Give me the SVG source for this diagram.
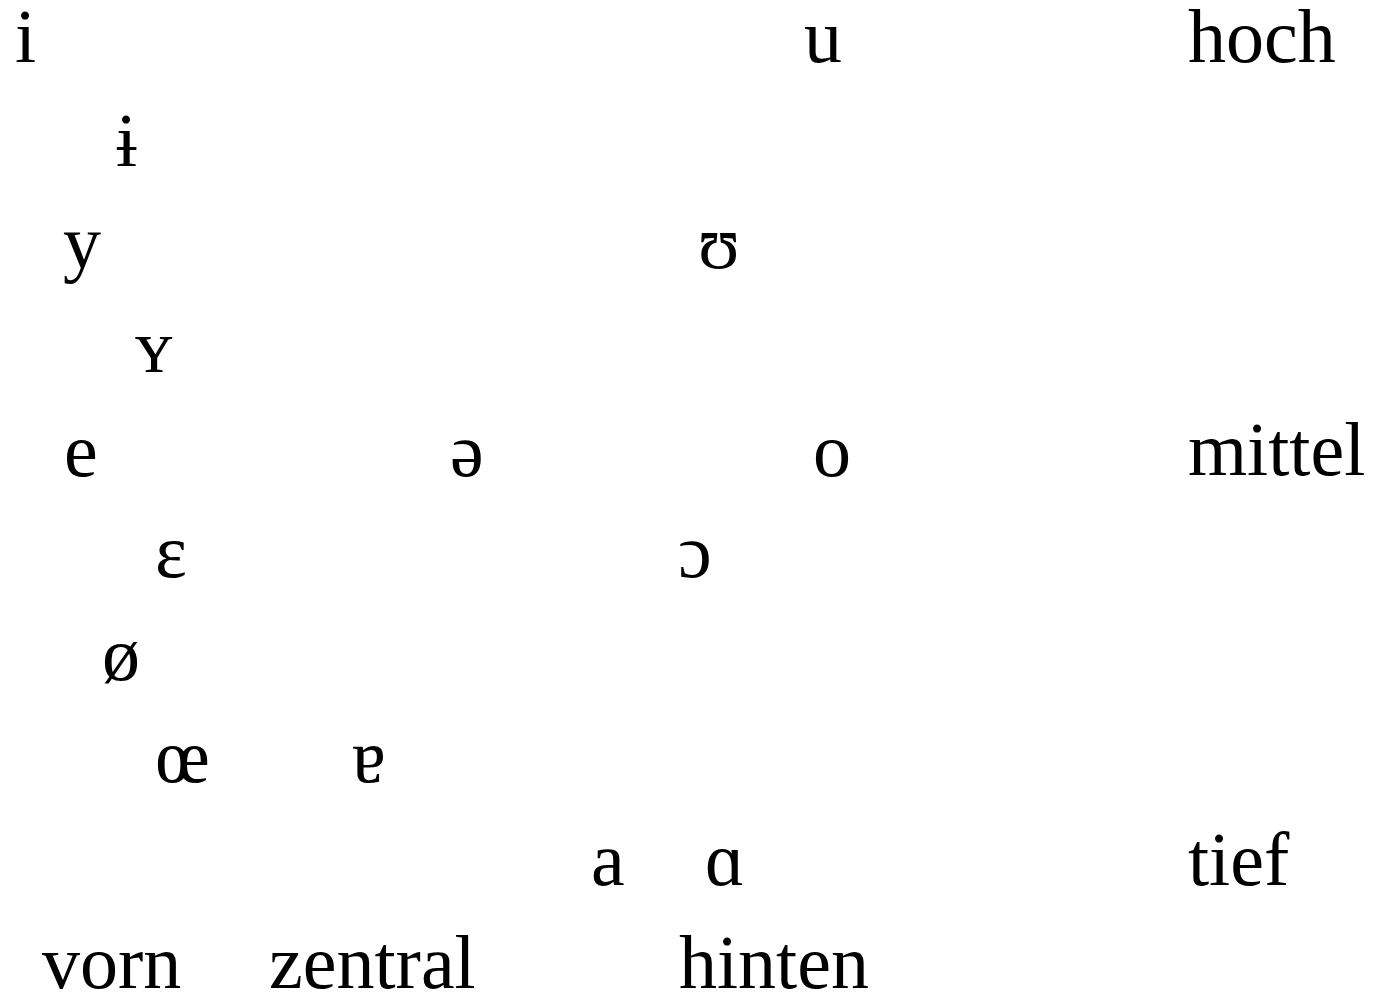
<svg xmlns="http://www.w3.org/2000/svg" width="1376" height="994" viewBox="0 0 1376 994">
<style>
text { font-family: "Liberation Serif", "Times New Roman", serif; font-size: 76px; fill: #000; }
</style>
<rect width="1376" height="994" fill="#fff"/>
<g id="vowels">
<g id="v-i"><text x="15" y="62">i</text></g>
<g id="v-u"><text x="804" y="62">u</text></g>
<g id="v-ibar"><text x="116" y="166">ɨ</text></g>
<g id="v-y"><text x="63" y="268">y</text></g>
<g id="v-upsilon"><text x="698" y="268">ʊ</text></g>
<g id="v-smallY"><text x="135" y="372">ʏ</text></g>
<g id="v-e"><text x="64" y="476">e</text></g>
<g id="v-schwa"><text x="450" y="476">ə</text></g>
<g id="v-o"><text x="813" y="476">o</text></g>
<g id="v-epsilon"><text x="155" y="577">ɛ</text></g>
<g id="v-openo"><text x="678" y="577">ɔ</text></g>
<g id="v-oslash"><text x="102" y="680">ø</text></g>
<g id="v-oe"><text x="155" y="782">œ</text></g>
<g id="v-turneda"><text x="352" y="782">ɐ</text></g>
<g id="v-a"><text x="591" y="885">a</text></g>
<g id="v-alpha"><text x="705" y="885">ɑ</text></g>
</g>
<g id="labels">
<g id="l-hoch"><text x="1188" y="62">hoch</text></g>
<g id="l-mittel"><text x="1188" y="475">mittel</text></g>
<g id="l-tief"><text x="1188" y="885">tief</text></g>
<g id="l-vorn"><text x="42" y="988">vorn</text></g>
<g id="l-zentral"><text x="269" y="988">zentral</text></g>
<g id="l-hinten"><text x="679" y="988">hinten</text></g>
</g>
<g id="connectors"></g>
</svg>
